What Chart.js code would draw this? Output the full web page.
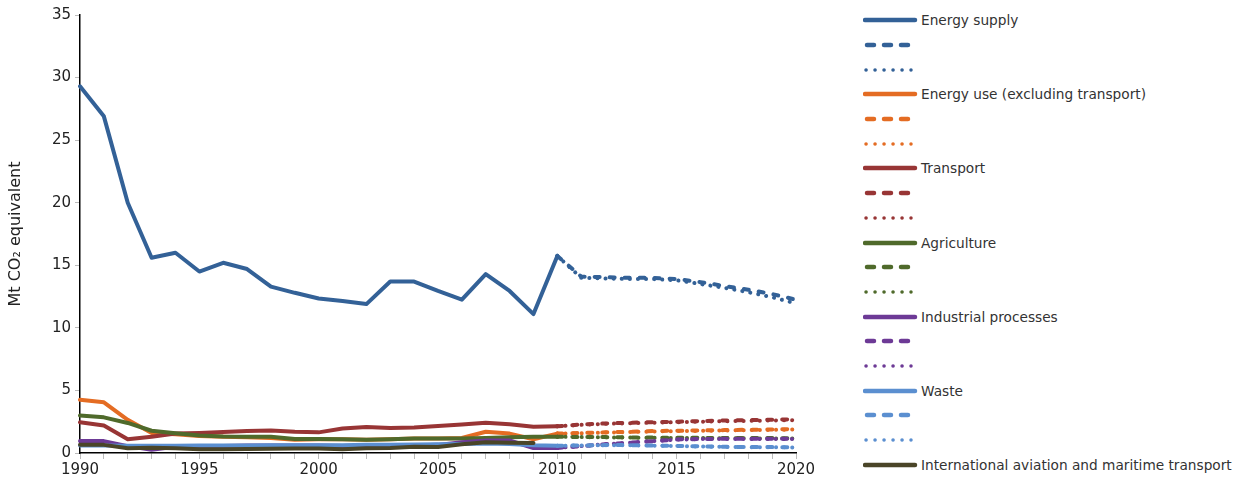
<!DOCTYPE html>
<html>
<head>
<meta charset="utf-8">
<script src="https://cdn.jsdelivr.net/npm/chart.js@4/dist/chart.umd.min.js"></script>
<style>
  body { margin: 0; background: #fff; font-family: "DejaVu Sans", sans-serif; }
  #wrap { position: relative; width: 1240px; height: 486px; }
  #chart { position: absolute; left: 0; top: 0; }
  #legend { position: absolute; left: 863px; top: 8px; }
  .row { height: 24.7px; display: flex; align-items: center; font-size: 13.7px; color: #333; white-space: nowrap; }
  .row svg { flex: none; margin-right: 2px; }
</style>
</head>
<body>
<div id="wrap">
  <canvas id="chart" width="830" height="486"></canvas>
  <div id="legend"></div>
</div>
<script>
// years on the x axis
const years = [];
for (let y = 1990; y <= 2020; y++) years.push(String(y));

// historical emissions 1990-2010 (Mt CO2 eq)
const energySupply = [29.3, 26.9, 20.0, 15.6, 16.0, 14.5, 15.2, 14.7, 13.3, 12.8, 12.35, 12.15, 11.9, 13.7, 13.7, 12.95, 12.25, 14.3, 12.95, 11.1, 15.75];
const energyUse    = [4.25, 4.05, 2.65, 1.6, 1.5, 1.35, 1.3, 1.25, 1.2, 1.05, 1.1, 1.1, 1.05, 1.1, 1.15, 1.15, 1.2, 1.7, 1.55, 1.1, 1.55];
const transport    = [2.45, 2.2, 1.1, 1.3, 1.55, 1.6, 1.68, 1.75, 1.8, 1.7, 1.65, 1.95, 2.08, 2.0, 2.03, 2.15, 2.28, 2.42, 2.3, 2.1, 2.13];
const agriculture  = [3.0, 2.85, 2.4, 1.78, 1.58, 1.4, 1.32, 1.3, 1.3, 1.12, 1.12, 1.1, 1.05, 1.1, 1.15, 1.15, 1.15, 1.2, 1.25, 1.3, 1.3];
const industrial   = [0.95, 0.95, 0.55, 0.25, 0.5, 0.5, 0.55, 0.6, 0.6, 0.6, 0.6, 0.55, 0.6, 0.6, 0.6, 0.65, 0.85, 1.0, 1.0, 0.4, 0.4];
const waste        = [0.6, 0.6, 0.58, 0.58, 0.58, 0.6, 0.6, 0.6, 0.62, 0.62, 0.62, 0.62, 0.65, 0.65, 0.68, 0.7, 0.72, 0.75, 0.72, 0.62, 0.58];
// aviation only goes to 2009
const aviation     = [0.65, 0.65, 0.38, 0.42, 0.38, 0.3, 0.3, 0.32, 0.33, 0.35, 0.35, 0.3, 0.38, 0.4, 0.5, 0.48, 0.7, 0.85, 0.82, 0.8];

// projections 2010-2020: with existing measures (dashed) / with additional measures (dotted)
const energySupplyWem = [15.75, 14.1, 14.05, 14.0, 14.0, 13.9, 13.65, 13.35, 13.05, 12.7, 12.25];
const energySupplyWam = [15.75, 14.0, 13.95, 13.9, 13.9, 13.8, 13.5, 13.2, 12.85, 12.45, 11.95];
const energyUseWem    = [1.55, 1.6, 1.65, 1.7, 1.75, 1.78, 1.8, 1.83, 1.86, 1.88, 1.92];
const energyUseWam    = [1.55, 1.58, 1.63, 1.67, 1.72, 1.75, 1.77, 1.8, 1.83, 1.85, 1.88];
const transportWem    = [2.13, 2.28, 2.36, 2.42, 2.46, 2.5, 2.55, 2.6, 2.63, 2.66, 2.7];
const transportWam    = [2.13, 2.25, 2.33, 2.38, 2.42, 2.46, 2.5, 2.54, 2.57, 2.6, 2.63];
const agricultureWem  = [1.3, 1.28, 1.27, 1.25, 1.23, 1.22, 1.21, 1.2, 1.2, 1.19, 1.18];
const agricultureWam  = [1.3, 1.27, 1.25, 1.23, 1.21, 1.2, 1.19, 1.18, 1.17, 1.16, 1.15];
const industrialWem   = [0.4, 0.55, 0.7, 0.82, 0.95, 1.08, 1.12, 1.13, 1.13, 1.13, 1.13];
const industrialWam   = [0.4, 0.55, 0.7, 0.82, 0.95, 1.07, 1.11, 1.12, 1.12, 1.12, 1.12];
const wasteWem        = [0.58, 0.6, 0.63, 0.63, 0.6, 0.57, 0.53, 0.5, 0.48, 0.47, 0.45];
const wasteWam        = [0.58, 0.6, 0.62, 0.62, 0.59, 0.56, 0.52, 0.49, 0.47, 0.46, 0.44];

const sectors = [
  { name: 'Energy supply', color: '#336197', hist: energySupply, wem: energySupplyWem, wam: energySupplyWam },
  { name: 'Energy use (excluding transport)', color: '#e46c23', hist: energyUse, wem: energyUseWem, wam: energyUseWam },
  { name: 'Transport', color: '#983535', hist: transport, wem: transportWem, wam: transportWam },
  { name: 'Agriculture', color: '#4f6a2b', hist: agriculture, wem: agricultureWem, wam: agricultureWam },
  { name: 'Industrial processes', color: '#6d3a96', hist: industrial, wem: industrialWem, wam: industrialWam },
  { name: 'Waste', color: '#5b8fd0', hist: waste, wem: wasteWem, wam: wasteWam },
  { name: 'International aviation and maritime transport', color: '#4a4528', hist: aviation }
];

const DASH = [5, 10];
const DOT = [0.1, 8];

function padHist(arr){ return years.map((_, i) => i < arr.length ? arr[i] : null); }
function padProj(arr){ return years.map((_, i) => i >= 20 ? arr[i - 20] : null); }

const datasets = [];
const legendItems = [];
sectors.forEach(s => {
  datasets.push({ label: s.name, data: padHist(s.hist), borderColor: s.color, borderWidth: 4 });
  legendItems.push({ text: s.name, color: s.color, kind: 'solid' });
  if (s.wem) {
    datasets.push({ label: '', data: padProj(s.wem), borderColor: s.color, borderWidth: 4, borderDash: DASH });
    datasets.push({ label: '', data: padProj(s.wam), borderColor: s.color, borderWidth: 4, borderDash: DOT });
    legendItems.push({ text: '', color: s.color, kind: 'dash' });
    legendItems.push({ text: '', color: s.color, kind: 'dot' });
  }
});
// later series on top, like the original
datasets.forEach((d, i) => {
  d.order = 100 - i;
  d.pointRadius = 0;
  d.tension = 0;
  d.fill = false;
  d.borderCapStyle = 'round';
  d.borderJoinStyle = 'round';
  d.spanGaps = false;
});

new Chart(document.getElementById('chart'), {
  type: 'line',
  data: { labels: years, datasets: datasets },
  options: {
    responsive: false,
    animation: false,
    devicePixelRatio: 1,
    layout: { padding: { top: 15, right: 34, left: 0, bottom: 0 } },
    plugins: { legend: { display: false }, tooltip: { enabled: false } },
    scales: {
      x: {
        type: 'category',
        offset: false,
        afterFit(scale){ scale.height = 33; },
        grid: { drawOnChartArea: false, tickLength: 6, color: '#bbb' },
        border: { color: '#000', width: 1.5 },
        ticks: {
          autoSkip: false, maxRotation: 0, padding: 2,
          color: '#222', font: { family: 'DejaVu Sans', size: 15 },
          callback: (v, i) => i % 5 === 0 ? years[i] : ''
        }
      },
      y: {
        min: 0, max: 35,
        afterFit(scale){ scale.width = 80; },
        grid: { drawOnChartArea: false, tickLength: 5, color: '#bbb' },
        border: { color: '#000', width: 1.5 },
        ticks: { stepSize: 5, padding: 4, color: '#222', font: { family: 'DejaVu Sans', size: 15 } },
        title: {
          display: true, text: 'Mt CO₂ equivalent', color: '#222',
          font: { family: 'DejaVu Sans', size: 16 }, padding: { top: 6, bottom: 4 }
        }
      }
    }
  }
});

// legend on the right
const legend = document.getElementById('legend');
legendItems.forEach(it => {
  const row = document.createElement('div');
  row.className = 'row';
  let line;
  if (it.kind === 'solid') line = '<line x1="2" y1="4" x2="52" y2="4" stroke-width="4.5"/>';
  else if (it.kind === 'dash') line = '<line x1="4" y1="4" x2="45" y2="4" stroke-width="4.5" stroke-dasharray="7 10"/>';
  else line = '<line x1="3" y1="4" x2="48" y2="4" stroke-width="3.5" stroke-dasharray="0.1 8.9"/>';
  row.innerHTML = '<svg width="56" height="8"><g stroke="' + it.color + '" stroke-linecap="round">' + line + '</g></svg>'
    + '<span>' + it.text + '</span>';
  legend.appendChild(row);
});
</script>
</body>
</html>
